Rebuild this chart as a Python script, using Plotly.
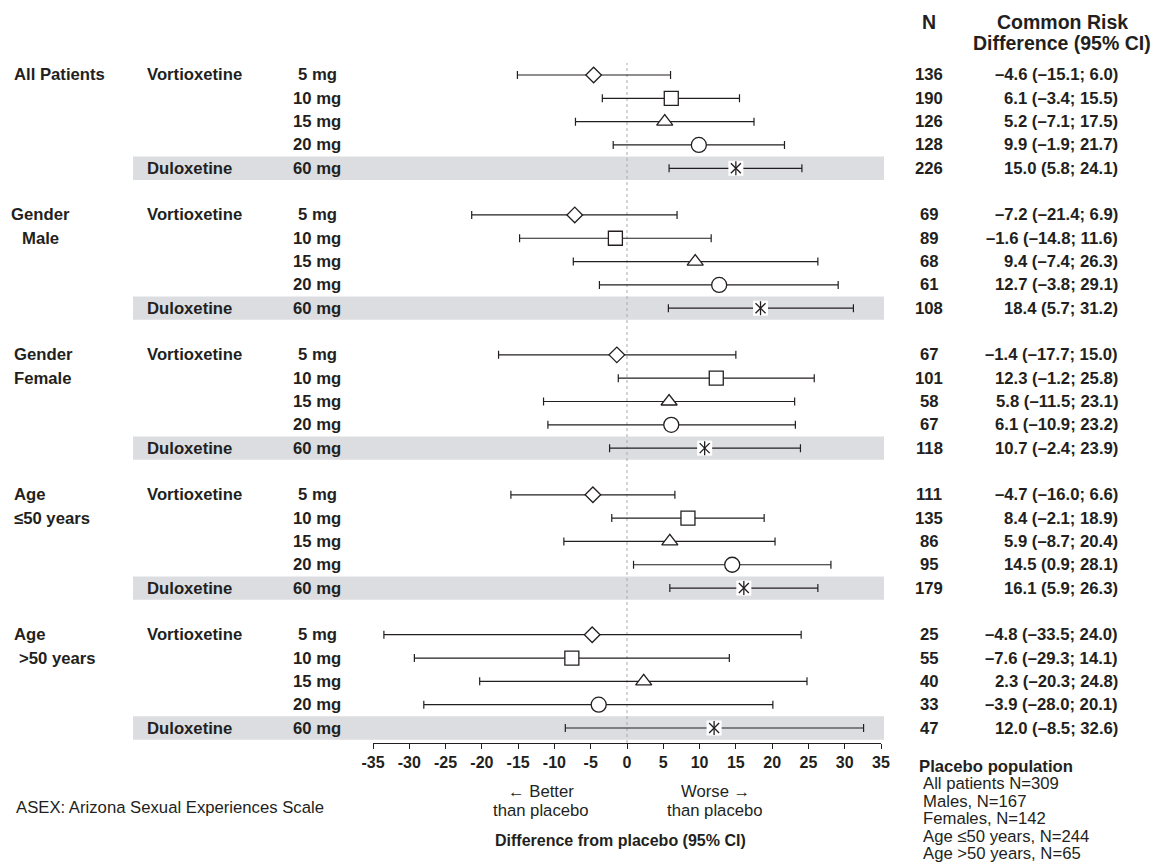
import plotly.graph_objects as go

# ---------------- data ----------------
group_line1 = ["All Patients", "Gender", "Gender", "Age", "Age"]
group_line2 = ["", "Male", "Female", "\u226450 years", ">50 years"]
treatments = ["Vortioxetine", "", "", "", "Duloxetine"]
doses = ["5 mg", "10 mg", "15 mg", "20 mg", "60 mg"]

n_all = [136, 190, 126, 128, 226]
n_male = [69, 89, 68, 61, 108]
n_female = [67, 101, 58, 67, 118]
n_le50 = [111, 135, 86, 95, 179]
n_gt50 = [25, 55, 40, 33, 47]

est_all = [-4.6, 6.1, 5.2, 9.9, 15.0]
lo_all = [-15.1, -3.4, -7.1, -1.9, 5.8]
hi_all = [6.0, 15.5, 17.5, 21.7, 24.1]

est_male = [-7.2, -1.6, 9.4, 12.7, 18.4]
lo_male = [-21.4, -14.8, -7.4, -3.8, 5.7]
hi_male = [6.9, 11.6, 26.3, 29.1, 31.2]

est_female = [-1.4, 12.3, 5.8, 6.1, 10.7]
lo_female = [-17.7, -1.2, -11.5, -10.9, -2.4]
hi_female = [15.0, 25.8, 23.1, 23.2, 23.9]

est_le50 = [-4.7, 8.4, 5.9, 14.5, 16.1]
lo_le50 = [-16.0, -2.1, -8.7, 0.9, 5.9]
hi_le50 = [6.6, 18.9, 20.4, 28.1, 26.3]

est_gt50 = [-4.8, -7.6, 2.3, -3.9, 12.0]
lo_gt50 = [-33.5, -29.3, -20.3, -28.0, -8.5]
hi_gt50 = [24.0, 14.1, 24.8, 20.1, 32.6]

x_ticks = [-35, -30, -25, -20, -15, -10, -5, 0, 5, 10, 15, 20, 25, 30, 35]
placebo_lines = ["All patients N=309", "Males, N=167", "Females, N=142",
                 "Age \u226450 years, N=244", "Age >50 years, N=65"]
footnote = "ASEX: Arizona Sexual Experiences Scale"
x_title = "Difference from placebo (95% CI)"

all_n = [n_all, n_male, n_female, n_le50, n_gt50]
all_est = [est_all, est_male, est_female, est_le50, est_gt50]
all_lo = [lo_all, lo_male, lo_female, lo_le50, lo_gt50]
all_hi = [hi_all, hi_male, hi_female, hi_le50, hi_gt50]

# ---------------- layout helpers (page pixel coords) ----------------
OFF = 8                  # page body margin
W, H = 1159 - OFF, 868 - OFF
L, R = 373, 881          # plot area pixel extents (x, page coords)
T, B = 63, 743           # plot area pixel extents (y, page coords)
TXT = "#231f20"
FONT = "Liberation Sans, Arial, sans-serif"
FS = 16.7


def px(x):
    return (x - L) / (R - L)


def py(y):
    return (B - y) / (B - T)


def fmt(v):
    s = f"{v:.1f}"
    return s.replace("-", "\u2013")


fig = go.Figure()

symbols = ["diamond", "square", "triangle-up", "circle"]
sizes = [12, 14, 14, 15]

shapes = []
annotations = []
bold = dict(family=FONT, size=FS, color=TXT)
reg = dict(family=FONT, size=FS, color=TXT)

for g in range(5):
    for i in range(5):
        row = g * 6 + i
        e, lo, hi = all_est[g][i], all_lo[g][i], all_hi[g][i]
        if i == 4:
            shapes.append(dict(type="rect", xref="paper", yref="y",
                               x0=px(133), x1=px(884), y0=row - 0.5, y1=row + 0.5,
                               fillcolor="#dcdde0", line=dict(width=0), layer="below"))
        fig.add_trace(go.Scatter(
            x=[e], y=[row], mode="markers",
            marker=dict(size=1, color="rgba(0,0,0,0)"),
            error_x=dict(type="data", symmetric=False, array=[hi - e], arrayminus=[e - lo],
                         width=4, thickness=1.2, color=TXT),
            showlegend=False, hoverinfo="skip"))
        if i < 4:
            fig.add_trace(go.Scatter(
                x=[e], y=[row], mode="markers",
                marker=dict(symbol=symbols[i], size=sizes[i], color="white",
                            line=dict(color=TXT, width=1.3)),
                showlegend=False))
        else:
            fig.add_trace(go.Scatter(
                x=[e], y=[row], mode="markers",
                marker=dict(symbol="square", size=15, color="white", line=dict(width=0)),
                showlegend=False, hoverinfo="skip"))
            fig.add_trace(go.Scatter(
                x=[e], y=[row], mode="markers",
                marker=dict(symbol="x-thin-open", size=10, color=TXT, line=dict(color=TXT, width=1.3)),
                showlegend=False))
            fig.add_trace(go.Scatter(
                x=[e], y=[row], mode="markers",
                marker=dict(symbol="line-ns-open", size=10, color=TXT, line=dict(color=TXT, width=1.3)),
                showlegend=False, hoverinfo="skip"))

        if treatments[i]:
            annotations.append(dict(xref="paper", yref="y", x=px(145), y=row, text=f"<b>{treatments[i]}</b>",
                                    showarrow=False, xanchor="left", yanchor="middle", font=bold))
        annotations.append(dict(xref="paper", yref="y", x=px(317), y=row, text=f"<b>{doses[i]}</b>",
                                showarrow=False, xanchor="center", yanchor="middle", font=bold))
        annotations.append(dict(xref="paper", yref="y", x=px(929), y=row, text=f"<b>{all_n[g][i]}</b>",
                                showarrow=False, xanchor="center", yanchor="middle", font=bold))
        annotations.append(dict(xref="paper", yref="y", x=px(1120), y=row,
                                text=f"<b>{fmt(e)} ({fmt(lo)}; {fmt(hi)})</b>",
                                showarrow=False, xanchor="right", yanchor="middle", font=bold))

    r0 = g * 6
    if g == 1:
        annotations.append(dict(xref="paper", yref="y", x=px(40), y=r0, text=f"<b>{group_line1[g]}</b>",
                                showarrow=False, xanchor="center", yanchor="middle", font=bold))
        annotations.append(dict(xref="paper", yref="y", x=px(40), y=r0 + 1, text=f"<b>{group_line2[g]}</b>",
                                showarrow=False, xanchor="center", yanchor="middle", font=bold))
    else:
        annotations.append(dict(xref="paper", yref="y", x=px(12), y=r0, text=f"<b>{group_line1[g]}</b>",
                                showarrow=False, xanchor="left", yanchor="middle", font=bold))
        if group_line2[g]:
            x2 = 17 if g == 4 else 12
            annotations.append(dict(xref="paper", yref="y", x=px(x2), y=r0 + 1, text=f"<b>{group_line2[g]}</b>",
                                    showarrow=False, xanchor="left", yanchor="middle", font=bold))

# reference line at 0
shapes.append(dict(type="line", xref="x", yref="paper", x0=0, x1=0, y0=0, y1=1,
                   line=dict(color="#aaaaaa", width=1, dash="dot"), layer="below"))

hdr = dict(family=FONT, size=19.5, color=TXT)
annotations.append(dict(xref="paper", yref="paper", x=px(929), y=py(8.5), text="<b>N</b>",
                        showarrow=False, xanchor="center", yanchor="top", font=hdr))
annotations.append(dict(xref="paper", yref="paper", x=px(1062), y=py(8.5), text="<b>Common Risk</b>",
                        showarrow=False, xanchor="center", yanchor="top", font=hdr))
annotations.append(dict(xref="paper", yref="paper", x=px(1062), y=py(43), text="<b>Difference (95% CI)</b>",
                        showarrow=False, xanchor="center", yanchor="middle", font=hdr))

annotations.append(dict(xref="paper", yref="paper", x=px(541), y=py(791), text="\u2190 Better",
                        showarrow=False, xanchor="center", yanchor="middle", font=reg))
annotations.append(dict(xref="paper", yref="paper", x=px(541), y=py(810), text="than placebo",
                        showarrow=False, xanchor="center", yanchor="middle", font=reg))
annotations.append(dict(xref="paper", yref="paper", x=px(715), y=py(791), text="Worse \u2192",
                        showarrow=False, xanchor="center", yanchor="middle", font=reg))
annotations.append(dict(xref="paper", yref="paper", x=px(715), y=py(810), text="than placebo",
                        showarrow=False, xanchor="center", yanchor="middle", font=reg))
annotations.append(dict(xref="paper", yref="paper", x=px(620), y=py(840), text=f"<b>{x_title}</b>",
                        showarrow=False, xanchor="center", yanchor="middle",
                        font=dict(family=FONT, size=16, color=TXT)))
annotations.append(dict(xref="paper", yref="paper", x=px(14), y=py(807), text=footnote,
                        showarrow=False, xanchor="left", yanchor="middle", font=reg))
annotations.append(dict(xref="paper", yref="paper", x=px(917), y=py(766), text="<b>Placebo population</b>",
                        showarrow=False, xanchor="left", yanchor="middle", font=bold))
for k, t in enumerate(placebo_lines):
    annotations.append(dict(xref="paper", yref="paper", x=px(921), y=py(783.5 + 17.6 * k), text=t,
                            showarrow=False, xanchor="left", yanchor="middle", font=reg))

fig.update_layout(
    width=W, height=H,
    margin=dict(l=L - OFF, r=W - (R - OFF), t=T - OFF, b=H - (B - OFF), pad=0),
    plot_bgcolor="white", paper_bgcolor="white",
    showlegend=False,
    shapes=shapes, annotations=annotations,
    xaxis=dict(range=[-35, 35], tickvals=x_ticks, ticktext=[f"<b>{v}</b>" for v in x_ticks],
               showgrid=False, zeroline=False, showline=True, linecolor=TXT, linewidth=1.2,
               ticks="outside", ticklen=5, tickcolor=TXT, tickwidth=1.2,
               tickfont=dict(family=FONT, size=16, color=TXT), fixedrange=True),
    yaxis=dict(range=[28.643, -0.514], showgrid=False, zeroline=False, showline=False,
               showticklabels=False, ticks="", fixedrange=True),
)

fig.write_html("out.html")
